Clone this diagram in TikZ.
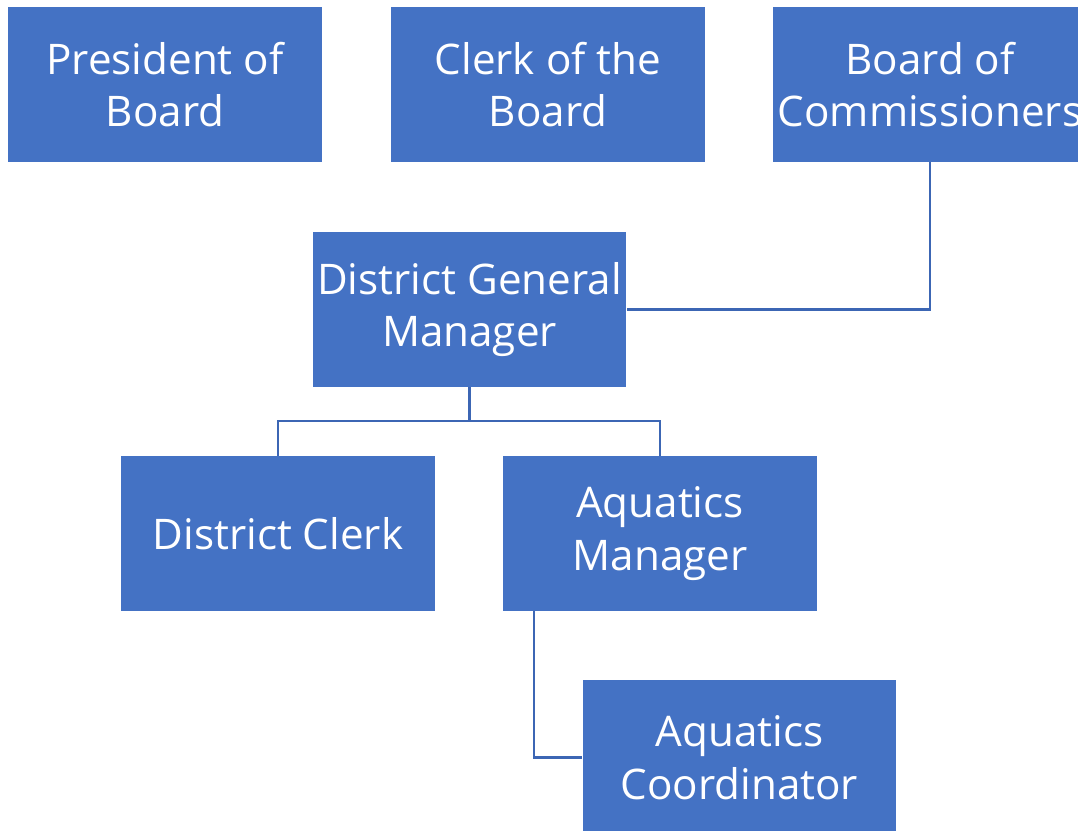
\documentclass[tikz,border=0pt]{standalone}
\usepackage{fontspec}
\setmainfont{Open Sans}
\usetikzlibrary{calc}
\definecolor{boxblue}{HTML}{4472C4}
\definecolor{linkblue}{HTML}{3C66B4}
\begin{document}
\begin{tikzpicture}[x=0.02cm,y=-0.02cm,
  orgbox/.style={rectangle, fill=boxblue, text=white, align=center,
    minimum width=6.28cm, minimum height=3.1cm, inner sep=0pt,
    font=\fontsize{24}{30}\selectfont},
  link/.style={draw=linkblue, line width=1.2pt}]
\useasboundingbox (0,0) rectangle (1078,831);
\begin{scope}
\clip (0,0) rectangle (1078,831);
\node[orgbox] (pres) at (165,84.5) {President of\\Board};
\node[orgbox] (clerkb) at (548,84.5) {Clerk of the\\Board};
\node[orgbox] (boc) at (930,84.5) {Board of\\Commissioners};
\node[orgbox] (dgm) at (469.5,309.5) {District General\\Manager};
\node[orgbox] (dc) at (278,533.5) {District Clerk};
\node[orgbox] (am) at (660,533.5) {Aquatics\\Manager};
\node[orgbox] (ac) at (739.5,757.5) {Aquatics\\Coordinator};
\coordinate (bus) at (469.5,421);
\draw[link] (boc.south) |- (dgm.east);
\draw[link] (dgm.south) -- (bus);
\draw[link] (bus) -| (dc.north);
\draw[link] (bus) -| (am.north);
\draw[link] ($(am.south west)+(31,0)$) |- (ac.west);
\end{scope}
\end{tikzpicture}
\end{document}
